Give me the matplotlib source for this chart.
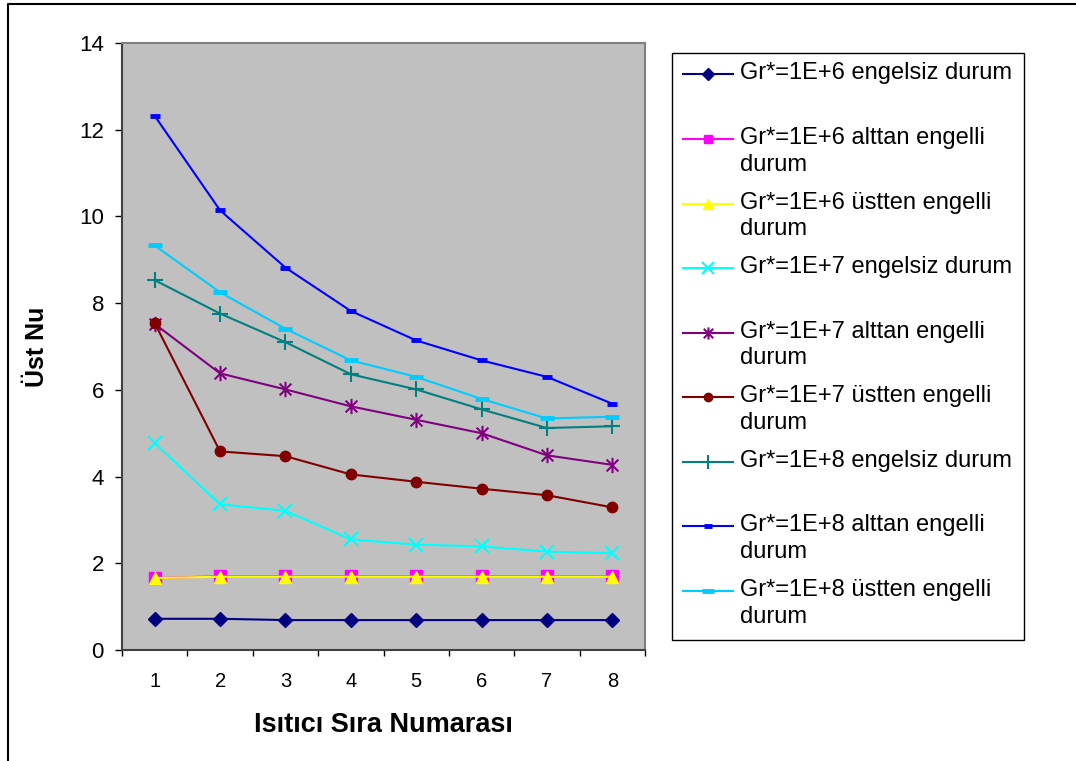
import matplotlib
matplotlib.use("Agg")
import matplotlib.pyplot as plt
from matplotlib.lines import Line2D
from matplotlib.patches import Rectangle
from matplotlib.path import Path

plt.rcParams["font.family"] = ["Liberation Sans", "DejaVu Sans"]

# heater index on the x axis
heaters = [1, 2, 3, 4, 5, 6, 7, 8]

nu_1e6_free = [0.72, 0.72, 0.69, 0.69, 0.69, 0.69, 0.69, 0.69]
nu_1e6_bottom = [1.66, 1.70, 1.70, 1.70, 1.70, 1.70, 1.70, 1.70]
nu_1e6_top = [1.66, 1.69, 1.69, 1.69, 1.69, 1.69, 1.69, 1.69]
nu_1e7_free = [4.77, 3.36, 3.21, 2.55, 2.43, 2.39, 2.27, 2.23]
nu_1e7_bottom = [7.52, 6.38, 6.01, 5.62, 5.31, 5.00, 4.49, 4.27]
nu_1e7_top = [7.54, 4.58, 4.47, 4.05, 3.88, 3.72, 3.57, 3.29]
nu_1e8_free = [8.53, 7.76, 7.10, 6.36, 6.01, 5.55, 5.12, 5.16]
nu_1e8_bottom = [12.32, 10.14, 8.82, 7.82, 7.14, 6.68, 6.30, 5.68]
nu_1e8_top = [9.33, 8.25, 7.41, 6.68, 6.30, 5.79, 5.34, 5.38]

labels = [
    "Gr*=1E+6 engelsiz durum",
    "Gr*=1E+6 alttan engelli\ndurum",
    "Gr*=1E+6 üstten engelli\ndurum",
    "Gr*=1E+7 engelsiz durum",
    "Gr*=1E+7 alttan engelli\ndurum",
    "Gr*=1E+7 üstten engelli\ndurum",
    "Gr*=1E+8 engelsiz durum",
    "Gr*=1E+8 alttan engelli\ndurum",
    "Gr*=1E+8 üstten engelli\ndurum",
]

# excel style asterisk: an x with a vertical stroke through it
star = Path(
    [(-1, -1), (1, 1), (-1, 1), (1, -1), (0, -1.3), (0, 1.3)],
    [Path.MOVETO, Path.LINETO, Path.MOVETO, Path.LINETO, Path.MOVETO, Path.LINETO],
)

series = [
    (nu_1e6_free, dict(color="#000080", marker="D", ms=7.5)),
    (nu_1e6_bottom, dict(color="#FF00FF", marker="s", ms=8)),
    (nu_1e6_top, dict(color="#FFFF00", marker="^", ms=9)),
    (nu_1e7_free, dict(color="#00FFFF", marker="x", ms=10, mew=1.5)),
    (nu_1e7_bottom, dict(color="#800080", marker=star, ms=11, mew=1.5)),
    (nu_1e7_top, dict(color="#800000", marker="o", ms=7.5)),
    (nu_1e8_free, dict(color="#008080", marker="+", ms=12, mew=1.5)),
    (nu_1e8_bottom, dict(color="#0000FF", marker="_", ms=7, mew=3.5)),
    (nu_1e8_top, dict(color="#00CCFF", marker="_", ms=10, mew=3.5)),
]

W, H = 1076, 761
fig = plt.figure(figsize=(W / 100, H / 100), dpi=100)


def fx(px):
    return px / W


def fy(py):
    return 1 - py / H


ax = fig.add_axes([fx(122), fy(650), (645 - 122) / W, (650 - 43) / H])
ax.set_facecolor("#C0C0C0")

for values, style in series:
    ax.plot(heaters, values, lw=1.5, **style)

ax.set_xlim(0.5, 8.5)
ax.set_ylim(0, 14)
ax.set_yticks(range(0, 15, 2))
ax.set_xticks([i + 0.5 for i in range(0, 9)])
ax.set_xticklabels([])
ax.set_xticks(heaters, minor=True)
ax.set_xticklabels([str(h) for h in heaters], minor=True)

ax.tick_params(axis="y", direction="out", length=5, width=1, pad=8, labelsize=16)
ax.tick_params(axis="x", which="major", direction="out", length=4.5, width=1)
ax.tick_params(axis="x", which="minor", length=0, pad=16, labelsize=14.5)

for side in ["left", "bottom"]:
    ax.spines[side].set_color("#404040")
    ax.spines[side].set_linewidth(1.5)
for side in ["top", "right"]:
    ax.spines[side].set_color("#808080")
    ax.spines[side].set_linewidth(1.5)

ax.set_xlabel("Isıtıcı Sıra Numarası", fontsize=19.5, fontweight="bold", va="center")
ax.xaxis.set_label_coords((383 - 122) / 523, -(725 - 650) / 607)
ax.set_ylabel("Üst Nu", fontsize=18, fontweight="bold", va="center")
ax.yaxis.set_label_coords((37 - 122) / 523, 0.5)

# legend drawn by hand, excel keeps every entry the same height
fig.add_artist(Rectangle((fx(672), fy(640)), (1024 - 672) / W, (640 - 53) / H,
                         transform=fig.transFigure, fill=False, ec="black", lw=1))
for i, (label, (values, style)) in enumerate(zip(labels, series)):
    y = 74.3 + i * 64.6
    fig.add_artist(Line2D([fx(683), fx(733)], [fy(y), fy(y)], color=style["color"], lw=1.5))
    st = dict(style)
    st["ms"] = st["ms"] * 0.8
    fig.add_artist(Line2D([fx(708)], [fy(y)], ls="none", **st))
    for j, line in enumerate(label.split("\n")):
        fig.text(fx(740), fy(y + 5 + j * 26.7), line, fontsize=17, va="baseline", ha="left")

# outer chart border (only left and top edges fall inside the image)
fig.add_artist(Line2D([fx(8), fx(8), fx(1080)], [fy(770), fy(4), fy(4)], color="black", lw=1.5))

fig.savefig("out.png", dpi=100)
